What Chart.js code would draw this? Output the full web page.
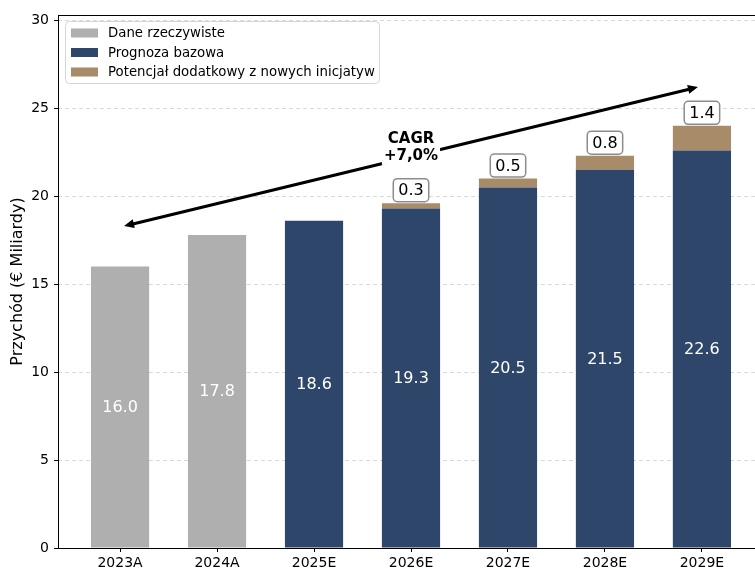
<!DOCTYPE html>
<html>
<head>
<meta charset="utf-8">
<script src="https://cdn.jsdelivr.net/npm/chart.js@4.4.0/dist/chart.umd.min.js"></script>
<style>
html, body { margin: 0; padding: 0; background: #fff; overflow: hidden; }
#wrap { width: 770px; height: 570px; }
</style>
</head>
<body>
<div id="wrap"><canvas id="revChart" width="770" height="570"></canvas></div>
<script>
// dane
const categories = ["2023A", "2024A", "2025E", "2026E", "2027E", "2028E", "2029E"];
const actualValues = [16.0, 17.8, null, null, null, null, null];
const baseValues = [null, null, 18.6, 19.3, 20.5, 21.5, 22.6];
const upsideValues = [null, null, null, 0.3, 0.5, 0.8, 1.4];
const yTicks = [0, 5, 10, 15, 20, 25, 30];
const seriesLabels = ["Dane rzeczywiste", "Prognoza bazowa", "Potencjał dodatkowy z nowych inicjatyw"];
const cagrText = ["CAGR", "+7,0%"];
const cagrStart = 18.3;   // wartość przy 2023A
const cagrEnd = 26.2;     // wartość przy 2029E

const colors = ["#afafaf", "#2d4669", "#a88b69"];
const FONT = "'DejaVu Sans', sans-serif";

function toPoints(arr) {
    return arr.map((v, i) => ({ x: i, y: v }));
}

// etykiety, strzałka CAGR, legenda, ramka
const overlayPlugin = {
    id: "overlay",
    afterDatasetsDraw(chart) {
        const ctx = chart.ctx;
        const xs = chart.scales.x;
        const ys = chart.scales.y;
        const area = chart.chartArea;

        ctx.save();
        ctx.textAlign = "center";
        ctx.textBaseline = "middle";

        // wartości wewnątrz słupków
        [0, 1].forEach(di => {
            const meta = chart.getDatasetMeta(di);
            meta.data.forEach((bar, i) => {
                const v = chart.data.datasets[di].data[i].y;
                if (v == null) return;
                ctx.fillStyle = "#fff";
                ctx.font = "16px " + FONT;
                ctx.fillText(v.toFixed(1), bar.x, (bar.y + bar.base) / 2 + 1);
            });
        });

        // potencjał – etykiety w ramkach
        const meta2 = chart.getDatasetMeta(2);
        meta2.data.forEach((bar, i) => {
            const v = chart.data.datasets[2].data[i].y;
            if (v == null) return;
            const txt = v.toFixed(1);
            ctx.font = "16px " + FONT;
            const w = ctx.measureText(txt).width + 10;
            const h = 23;
            const cy = bar.y - 13;
            ctx.beginPath();
            ctx.roundRect(bar.x - w / 2, cy - h / 2, w, h, 4);
            ctx.fillStyle = "#fff";
            ctx.fill();
            ctx.strokeStyle = "#8c8c8c";
            ctx.lineWidth = 1.5;
            ctx.stroke();
            ctx.fillStyle = "#000";
            ctx.fillText(txt, bar.x, cy + 1);
        });

        // strzałka CAGR
        const x0 = xs.getPixelForValue(0) + 4, y0 = ys.getPixelForValue(cagrStart);
        const x1 = xs.getPixelForValue(6) - 4, y1 = ys.getPixelForValue(cagrEnd);
        const ang = Math.atan2(y1 - y0, x1 - x0);
        const head = 10, half = 4.5;
        ctx.strokeStyle = "#000";
        ctx.fillStyle = "#000";
        ctx.lineWidth = 3;
        ctx.beginPath();
        ctx.moveTo(x0 + (head - 2) * Math.cos(ang), y0 + (head - 2) * Math.sin(ang));
        ctx.lineTo(x1 - (head - 2) * Math.cos(ang), y1 - (head - 2) * Math.sin(ang));
        ctx.stroke();
        [[x1, y1, ang + Math.PI], [x0, y0, ang]].forEach(([hx, hy, a]) => {
            const bx = hx + head * Math.cos(a), by = hy + head * Math.sin(a);
            ctx.beginPath();
            ctx.moveTo(hx, hy);
            ctx.lineTo(bx + half * Math.sin(a), by - half * Math.cos(a));
            ctx.lineTo(bx - half * Math.sin(a), by + half * Math.cos(a));
            ctx.closePath();
            ctx.fill();
        });

        // tekst CAGR na białym tle
        ctx.font = "bold 15px " + FONT;
        const cx = xs.getPixelForValue(3), cyc = ys.getPixelForValue(22.8);
        const tw = Math.max(ctx.measureText(cagrText[0]).width, ctx.measureText(cagrText[1]).width) + 4;
        ctx.fillStyle = "#fff";
        ctx.fillRect(cx - tw / 2, cyc - 18, tw, 36);
        ctx.fillStyle = "#000";
        ctx.fillText(cagrText[0], cx, cyc - 8);
        ctx.fillText(cagrText[1], cx, cyc + 9);

        // ramka wykresu
        ctx.strokeStyle = "#000";
        ctx.lineWidth = 1;
        ctx.strokeRect(area.left + 0.5, area.top + 0.5, area.right - area.left, area.bottom - area.top);

        // legenda
        const lx = 65, ly = 21, lw = 314, lh = 62;
        ctx.beginPath();
        ctx.roundRect(lx + 0.5, ly + 0.5, lw, lh, 4);
        ctx.fillStyle = "rgba(255,255,255,0.85)";
        ctx.fill();
        ctx.strokeStyle = "#d6d6d6";
        ctx.stroke();
        ctx.font = "13.3px " + FONT;
        ctx.textAlign = "left";
        seriesLabels.forEach((lab, i) => {
            const ry = 33 + i * 19.5;
            ctx.fillStyle = colors[i];
            ctx.fillRect(71, ry - 4.5, 27, 9);
            ctx.fillStyle = "#000";
            ctx.fillText(lab, 108, ry + 1);
        });
        ctx.restore();
    }
};

const ctx = document.getElementById("revChart").getContext("2d");
new Chart(ctx, {
    type: "bar",
    data: {
        datasets: [
            { label: seriesLabels[0], data: toPoints(actualValues), backgroundColor: colors[0] },
            { label: seriesLabels[1], data: toPoints(baseValues), backgroundColor: colors[1] },
            { label: seriesLabels[2], data: toPoints(upsideValues), backgroundColor: colors[2] }
        ]
    },
    options: {
        responsive: false,
        animation: false,
        devicePixelRatio: 1,
        layout: { padding: { top: 15, right: 6, left: 0, bottom: 0 } },
        datasets: { bar: { barPercentage: 0.6, categoryPercentage: 1, borderWidth: 0 } },
        plugins: { legend: { display: false }, tooltip: { enabled: false } },
        scales: {
            x: {
                type: "linear",
                stacked: true,
                offset: false,
                min: -0.64,
                max: 6.64,
                afterBuildTicks: s => { s.ticks = categories.map((_, i) => ({ value: i })); },
                afterFit: s => { s.height = 22; },
                ticks: {
                    callback: v => categories[v] || "",
                    color: "#000",
                    font: { size: 14, family: FONT },
                    padding: 3,
                    maxRotation: 0,
                    autoSkip: false
                },
                grid: { offset: false, drawOnChartArea: false, tickColor: "#000", tickLength: 4 },
                border: { display: false }
            },
            y: {
                stacked: true,
                min: 0,
                max: 30.3,
                afterBuildTicks: s => { s.ticks = yTicks.map(v => ({ value: v })); },
                afterFit: s => { s.width = 58; },
                ticks: {
                    color: "#000",
                    font: { size: 14, family: FONT },
                    padding: 5
                },
                grid: { color: "#d9d9d9", tickColor: "#000", tickLength: 4 },
                border: { display: false, dash: [4, 3] },
                title: {
                    display: true,
                    text: "Przychód (€ Miliardy)",
                    color: "#000",
                    font: { size: 16, family: FONT },
                    padding: { top: 8, bottom: 0 }
                }
            }
        }
    },
    plugins: [overlayPlugin]
});
</script>
</body>
</html>
